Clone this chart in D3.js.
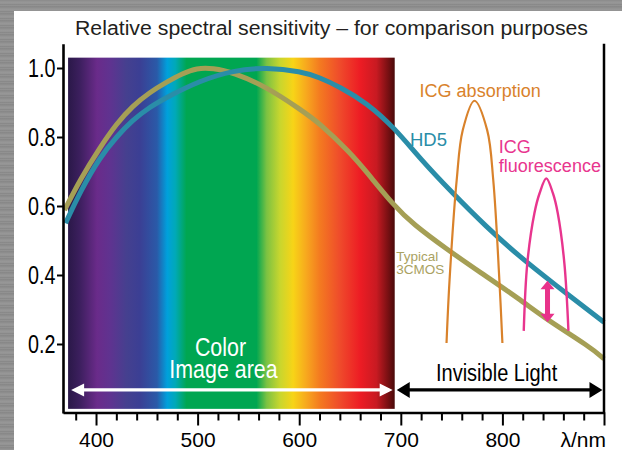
<!DOCTYPE html>
<html><head><meta charset="utf-8">
<script src="https://cdn.jsdelivr.net/npm/d3@7"></script>
<style>
html,body{margin:0;padding:0;width:622px;height:450px;overflow:hidden;}
body{background:#8d8d8d repeating-linear-gradient(180deg,#7e7e7e 0px,#9c9c9c 1px,#8a8a8a 2px,#a3a3a3 3px,#858585 4px,#969696 6px,#7b7b7b 7px);}
svg{display:block;}
</style></head><body><div id="chart"></div>
<script>
// ---------- data ----------
const titleText = "Relative spectral sensitivity – for comparison purposes";
const xMajorTicks = [400, 500, 600, 700, 800, 900];
const xMajorLabels = ["400", "500", "600", "700", "800", "λ/nm"];
const xMinorTicks = [380, 420, 440, 460, 480, 520, 540, 560, 580, 620, 640, 660, 680, 720, 740, 760, 780, 820, 840, 860, 880];
const yTicks = [0.2, 0.4, 0.6, 0.8, 1.0];
const yTickLabels = ["0.2", "0.4", "0.6", "0.8", "1.0"];

const hd5Nm  = [370, 385, 404, 420, 436, 453, 470, 502, 535, 568, 602, 620, 640, 666, 694, 719, 751, 784, 817, 850, 900];
const hd5Val = [0.55, 0.645, 0.742, 0.80, 0.849, 0.887, 0.916, 0.963, 0.993, 1.002, 0.99, 0.973, 0.945, 0.9, 0.826, 0.737, 0.637, 0.540, 0.453, 0.376, 0.263];

const cmosNm  = [369, 385, 404, 420, 436, 453, 470, 485, 499, 515, 535, 568, 602, 620, 650, 666, 694, 712, 745, 778, 817, 844, 886, 900];
const cmosVal = [0.588, 0.68, 0.77, 0.838, 0.89, 0.93, 0.96, 0.984, 1.0, 1.0, 0.987, 0.945, 0.878, 0.84, 0.755, 0.70, 0.598, 0.548, 0.475, 0.408, 0.33, 0.27, 0.192, 0.157];

const absNm  = [745, 748, 755, 761, 772.5, 785, 791, 797, 800];
const absVal = [0.203, 0.386, 0.675, 0.82, 0.905, 0.82, 0.675, 0.386, 0.203];

const fluNm  = [821, 824.5, 831.5, 836.6, 843.2, 849.7, 854.5, 861, 865];
const fluVal = [0.238, 0.434, 0.579, 0.637, 0.68, 0.637, 0.579, 0.434, 0.238];

const spectrumNm     = [372.5, 384, 401, 414, 430, 443, 460, 470, 478, 489, 558, 568, 581, 594, 607, 620, 640, 660, 676, 694];
const spectrumColors = ["#2a1848", "#3c1f5e", "#6a2b8a", "#5f3390", "#45408f", "#3b3f94", "#2a5aa8", "#00a0dc", "#00a9b8", "#00a651", "#00a651", "#7cc242", "#c8d62e", "#f7d417", "#f7a81e", "#f47b20", "#ef4b2b", "#ed1c24", "#c81a22", "#4a0a0a"];

const visibleRange = [372.5, 694];
const colorArrowNm = [375.5, 692];
const invisibleArrowNm = [696, 898.5];
const arrowLevel = 0.067;
const gapArrowNm = 844.4;
const gapArrowVal = [0.383, 0.263];

// ---------- layout ----------
const W = 622, H = 450;
const svg = d3.select("#chart").append("svg").attr("width", W).attr("height", H);
svg.append("rect").attr("x", 14).attr("y", 11).attr("width", W - 14).attr("height", H - 11).attr("fill", "#fff");

const x = d3.scaleLinear().domain([367.5, 900]).range([63, 604]);
const y = d3.scaleLinear().domain([0, 1.07]).range([413, 43.85]);

// spectrum gradient
const defs = svg.append("defs");
const x1 = x(visibleRange[0]), x2 = x(visibleRange[1]);
const grad = defs.append("linearGradient").attr("id", "spec")
  .attr("gradientUnits", "userSpaceOnUse").attr("x1", x1).attr("x2", x2).attr("y1", 0).attr("y2", 0);
spectrumNm.forEach((nm, i) => {
  grad.append("stop").attr("offset", (x(nm) - x1) / (x2 - x1)).attr("stop-color", spectrumColors[i]);
});
svg.append("rect").attr("x", x1).attr("y", y(1.03)).attr("width", x2 - x1).attr("height", y(0.012) - y(1.03)).attr("fill", "url(#spec)");

const sans = "Liberation Sans, Arial, sans-serif";
// lines: array of [text, dxInUnscaledPx, dyPx]
function label(lines, xx, yy, size, fill, sx, anchor) {
  const t = svg.append("text").attr("transform", `translate(${xx},${yy}) scale(${sx},1)`)
    .attr("font-size", size).attr("fill", fill)
    .attr("font-family", sans).attr("text-anchor", anchor || "start");
  if (typeof lines === "string") { t.text(lines); return t; }
  lines.forEach((l, i) => {
    t.append("tspan").attr("x", (l[1] || 0) / sx).attr("y", l[2] || 0).text(l[0]);
  });
  return t;
}

// title
svg.append("text").attr("x", 75).attr("y", 35)
  .attr("font-family", sans).attr("font-size", 20).attr("fill", "#231f20")
  .attr("textLength", 513).attr("lengthAdjust", "spacingAndGlyphs")
  .text(titleText);

// curves
const zipper = (a, b) => a.map((v, i) => [v, b[i]]);
const smooth = d3.line().x(d => x(d[0])).y(d => y(d[1])).curve(d3.curveBasis);
const peak = d3.line().x(d => x(d[0])).y(d => y(d[1])).curve(d3.curveCatmullRom.alpha(0.5));

svg.append("path").attr("d", smooth(zipper(cmosNm, cmosVal))).attr("fill", "none")
  .attr("stroke", "#a59f55").attr("stroke-width", 5);
svg.append("path").attr("d", smooth(zipper(hd5Nm, hd5Val))).attr("fill", "none")
  .attr("stroke", "#2a8da8").attr("stroke-width", 5);
svg.append("path").attr("d", peak(zipper(absNm, absVal))).attr("fill", "none")
  .attr("stroke", "#d9822b").attr("stroke-width", 2.2);
svg.append("path").attr("d", peak(zipper(fluNm, fluVal))).attr("fill", "none")
  .attr("stroke", "#e8358e").attr("stroke-width", 2.4);

// arrows
function hArrow(xa, xb, yc, t, L, h) {
  return `M${xa},${yc}L${xa + L},${yc - h}L${xa + L},${yc - t / 2}L${xb - L},${yc - t / 2}L${xb - L},${yc - h}L${xb},${yc}L${xb - L},${yc + h}L${xb - L},${yc + t / 2}L${xa + L},${yc + t / 2}L${xa + L},${yc + h}Z`;
}
function vArrow(xc, ya, yb, t, L, h) {
  return `M${xc},${ya}L${xc - h},${ya + L}L${xc - t / 2},${ya + L}L${xc - t / 2},${yb - L}L${xc - h},${yb - L}L${xc},${yb}L${xc + h},${yb - L}L${xc + t / 2},${yb - L}L${xc + t / 2},${ya + L}L${xc + h},${ya + L}Z`;
}
svg.append("path").attr("d", hArrow(x(colorArrowNm[0]), x(colorArrowNm[1]), y(arrowLevel), 3.2, 13, 6.5)).attr("fill", "#fff");
svg.append("path").attr("d", hArrow(x(invisibleArrowNm[0]), x(invisibleArrowNm[1]), y(arrowLevel), 3.2, 13, 8)).attr("fill", "#000");
svg.append("path").attr("d", vArrow(x(gapArrowNm), y(gapArrowVal[0]), y(gapArrowVal[1]), 5, 8.5, 7)).attr("fill", "#e8328a");

// annotations
label([["Color", 0, 0], ["Image area", 3, 22.5]], x(522.5), 355.5, 25.5, "#fff", 0.84, "middle");
label("Invisible Light", x(794.3), 381, 24, "#000", 0.835, "middle");
label("HD5", x(709), 146, 18.5, "#2a8da8", 1);
label("ICG absorption", x(718.5), 97, 18, "#d9822b", 1);
label([["ICG", 0, 0], ["fluorescence", 0, 19]], x(796.5), 153, 18, "#e8358e", 1);
label([["Typical", 0, 0], ["3CMOS", 0, 13]], x(695.5), 260.5, 13.5, "#aaa262", 1);

// axes
const gx = svg.append("g").attr("transform", "translate(0,412.5)");
gx.call(d3.axisBottom(x).tickValues(xMinorTicks).tickSize(8).tickSizeOuter(0).tickFormat(""));
gx.select(".domain").remove();
const gx2 = svg.append("g").attr("transform", "translate(0,412.5)");
gx2.call(d3.axisBottom(x).tickValues(xMajorTicks).tickSize(13).tickSizeOuter(0)
  .tickFormat((d, i) => xMajorLabels[i]));
gx2.selectAll(".tick text").attr("y", 34.5).attr("dy", 0)
  .attr("font-size", 21).attr("font-family", sans).attr("fill", "#000");
gx2.selectAll(".tick text").filter((d, i) => i === xMajorTicks.length - 1)
  .attr("text-anchor", "end").attr("x", 1.5);

const gy = svg.append("g").attr("transform", "translate(63,0)");
gy.call(d3.axisLeft(y).tickValues(yTicks).tickSize(6).tickSizeOuter(0).tickFormat(""));
yTicks.forEach((v, i) => {
  label(yTickLabels[i], 55.5, y(v) + 9, 25, "#000", 0.79, "end");
});

// right border line
svg.append("line").attr("x1", x(900)).attr("x2", x(900)).attr("y1", y(1.07)).attr("y2", 413)
  .attr("stroke", "#000").attr("stroke-width", 2.5);

svg.selectAll(".domain").attr("stroke", "#000").attr("stroke-width", 2.6);
svg.selectAll(".tick line").attr("stroke", "#000").attr("stroke-width", 2);
</script></body></html>
